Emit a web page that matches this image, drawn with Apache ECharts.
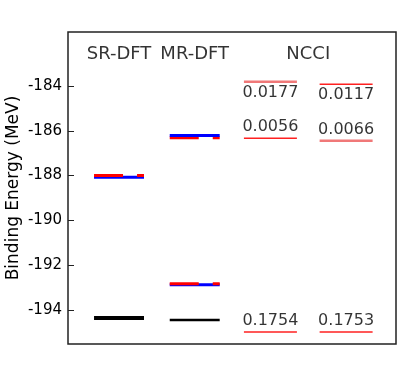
<!DOCTYPE html>
<html>
<head>
<meta charset="utf-8">
<script src="https://cdn.jsdelivr.net/npm/echarts@6/dist/echarts.min.js"></script>
<style>
  html, body { margin: 0; padding: 0; background: #fff; }
  #levels { width: 415px; height: 377px; }
</style>
</head>
<body>
<div id="levels"></div>
<script>
// column headers
const methods = ['SR-DFT', 'MR-DFT', 'NCCI'];
// DFT levels, MeV
const srBlue = [-188.08];
const srRed = [-188.0];
const srBlack = [-194.36];
const mrBlue = [-186.21, -192.87];
const mrRed = [-186.31, -192.83];
const mrBlack = [-194.45];
// NCCI levels, two columns, with their weights
const ncciA = [-183.81, -186.33, -194.98];
const ncciB = [-183.92, -186.44, -194.98];
const ncciWeightsA = ['0.0177', '0.0056', '0.1754'];
const ncciWeightsB = ['0.0117', '0.0066', '0.1753'];
const yTicks = [-194, -192, -190, -188, -186, -184];

// layout: column centres on the hidden x axis, half widths of the bars
var colX = { sr: 1, mr: 2, nA: 3, nB: 4 };
var dftHalf = 0.33, ncciHalf = 0.35;
var font = 'DejaVu Sans';

var chart = echarts.init(document.getElementById('levels'));
var series = [];

function level(cx, hw, y, style, z) {
    series.push({
        type: 'line',
        data: [[cx - hw, y], [cx + hw, y]],
        symbol: 'none',
        silent: true,
        z: z || 2,
        lineStyle: style
    });
}

var blue = { color: '#0000ff', width: 3 };
var redDash = { color: '#ff0000', width: 3, type: [29, 14] };

// SR-DFT
srBlue.forEach(function (v) { level(colX.sr, dftHalf, v, blue, 2); });
srRed.forEach(function (v) { level(colX.sr, dftHalf, v, redDash, 3); });
srBlack.forEach(function (v) { level(colX.sr, dftHalf, v, { color: '#000', width: 4 }); });
// MR-DFT (upper pair: blue drawn over red)
mrBlue.forEach(function (v, i) { level(colX.mr, dftHalf, v, blue, i == 0 ? 4 : 2); });
mrRed.forEach(function (v) { level(colX.mr, dftHalf, v, redDash, 3); });
mrBlack.forEach(function (v) { level(colX.mr, dftHalf, v, { color: '#000', width: 2.5 }); });

// NCCI
var lightA = [true, false, false], lightB = [false, true, false];
ncciA.forEach(function (v, i) {
    level(colX.nA, ncciHalf, v, lightA[i] ? { color: '#f07878', width: 2.5 } : { color: '#ff2020', width: 1.5 });
});
ncciB.forEach(function (v, i) {
    level(colX.nB, ncciHalf, v, lightB[i] ? { color: '#f07878', width: 2.5 } : { color: '#ff2020', width: 1.5 });
});

function weightLabels(cx, levels, weights) {
    series.push({
        type: 'scatter',
        symbolSize: 0,
        silent: true,
        data: levels.map(function (v, i) {
            return {
                value: [cx, v],
                label: { position: i == 0 ? 'bottom' : 'top', formatter: weights[i] }
            };
        }),
        label: { show: true, distance: 3, color: '#000', fontSize: 16, fontFamily: font }
    });
}
weightLabels(colX.nA, ncciA, ncciWeightsA);
weightLabels(colX.nB, ncciB, ncciWeightsB);

// headers
var headX = [colX.sr, colX.mr, (colX.nA + colX.nB) / 2];
series.push({
    type: 'scatter',
    symbolSize: 0,
    silent: true,
    data: methods.map(function (m, i) { return { value: [headX[i], -182.6], name: m }; }),
    label: { show: true, position: 'inside', formatter: '{b}', color: '#000', fontSize: 18, fontFamily: font }
});

var option = {
    animation: false,
    grid: {
        left: 68, right: 19, top: 32, bottom: 33,
        outerBoundsMode: 'none',
        show: true, borderColor: '#222', borderWidth: 1.5
    },
    xAxis: {
        type: 'value', min: 0.326, max: 4.659, show: false
    },
    yAxis: {
        type: 'value',
        min: -195.52,
        max: -181.59,
        name: 'Binding Energy (MeV)',
        nameLocation: 'middle',
        nameGap: 46,
        nameMoveOverlap: false,
        nameTextStyle: { fontSize: 17, color: '#000', fontFamily: font },
        axisLine: { show: false },
        splitLine: { show: false },
        axisTick: {
            show: true, inside: true, length: 6,
            customValues: yTicks,
            lineStyle: { color: '#222', width: 1 }
        },
        axisLabel: {
            customValues: yTicks,
            margin: 6,
            fontSize: 15, color: '#000', fontFamily: font
        }
    },
    series: series
};
chart.setOption(option);
</script>
</body>
</html>
